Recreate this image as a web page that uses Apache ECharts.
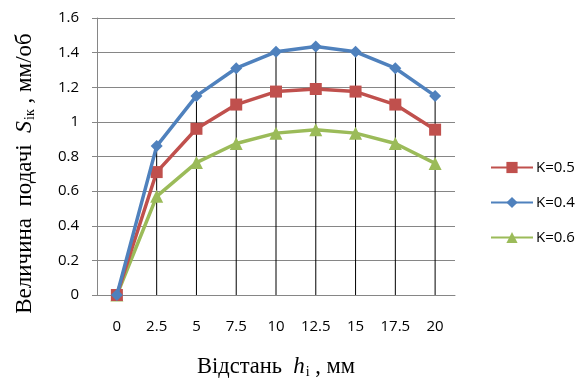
<!DOCTYPE html>
<html><head><meta charset="utf-8">
<script src="https://cdn.jsdelivr.net/npm/echarts@6/dist/echarts.min.js"></script>
<style>html,body{margin:0;padding:0;background:#fff}#c{width:585px;height:380px}</style>
</head><body><div id="c"></div>
<script>
var categories = ['0','2.5','5','7.5','10','12.5','15','17.5','20'];
var k05 = [0, 0.71, 0.96, 1.10, 1.175, 1.19, 1.175, 1.10, 0.955];
var k04 = [0, 0.86, 1.15, 1.31, 1.405, 1.435, 1.405, 1.31, 1.15];
var k06 = [0, 0.57, 0.765, 0.875, 0.935, 0.955, 0.935, 0.875, 0.76];
var yTicks = [0, 0.2, 0.4, 0.6, 0.8, 1, 1.2, 1.4, 1.6];

var chart = echarts.init(document.getElementById('c'), null, {renderer:'canvas'});
var serif = '"Liberation Serif", "DejaVu Serif", serif';
var sans = '"Open Sans", "Liberation Sans", sans-serif';
chart.setOption({
  animation: false,
  backgroundColor: '#fff',
  grid: {left: 97, right: 130, top: 18, bottom: 85, containLabel: false, outerBoundsMode: 'none'},
  legend: {
    orient: 'vertical', left: 485, top: 155, itemGap: 20,
    itemWidth: 42, itemHeight: 14,
    textStyle: {fontFamily: sans, fontSize: 15, color: '#000', padding: [0, 0, 0, -2]},
    data: ['K=0.5', 'K=0.4', 'K=0.6']
  },
  xAxis: {
    type: 'category', data: categories, boundaryGap: true,
    axisLine: {lineStyle: {color: '#868686', width: 1}},
    axisTick: {show: false},
    axisLabel: {fontFamily: sans, fontSize: 15, color: '#000', margin: 24},
    name: '{n|Відстань  }{i|h}{s|i}{n| , мм}',
    nameLocation: 'middle', nameGap: 60,
    nameTextStyle: {
      rich: {
        n: {fontFamily: serif, fontSize: 22.5, color: '#000'},
        i: {fontFamily: serif, fontSize: 23, fontStyle: 'italic', color: '#000'},
        s: {fontFamily: serif, fontSize: 14, color: '#000', padding: [10, 0, 0, 1]}
      }
    }
  },
  yAxis: {
    type: 'value', min: 0, max: 1.6, interval: 0.2,
    axisLine: {show: true, lineStyle: {color: '#868686', width: 1}},
    axisTick: {show: true, inside: false, length: 5, lineStyle: {color: '#868686'}},
    splitLine: {lineStyle: {color: '#868686', width: 1}},
    axisLabel: {fontFamily: sans, fontSize: 15, color: '#000', margin: 18,
      formatter: function (v) { return String(Math.round(v * 10) / 10); }},
    name: '{n|Величина  подачі  }{i|S}{s|ік}{n| , мм/об}',
    nameLocation: 'middle', nameRotate: 90, nameGap: 60,
    nameTextStyle: {
      padding: [0, 34, 0, 0],
      rich: {
        n: {fontFamily: serif, fontSize: 23, color: '#000'},
        i: {fontFamily: serif, fontSize: 24, fontStyle: 'italic', color: '#000'},
        s: {fontFamily: serif, fontSize: 14, color: '#000', padding: [10, 0, 0, 1]}
      }
    }
  },
  series: [
    {name: 'drop', type: 'bar', data: k04, barWidth: 1, z: 1,
     itemStyle: {color: '#000'}, silent: true, legendHoverLink: false},
    {name: 'K=0.5', type: 'line', data: k05, z: 3,
     symbol: 'rect', symbolSize: 12,
     lineStyle: {color: '#C0504D', width: 3.5}, itemStyle: {color: '#C0504D'}},
    {name: 'K=0.4', type: 'line', data: k04, z: 4,
     symbol: 'diamond', symbolSize: 12,
     lineStyle: {color: '#4F81BD', width: 3.5}, itemStyle: {color: '#4F81BD'}},
    {name: 'K=0.6', type: 'line', data: k06, z: 2,
     symbol: 'triangle', symbolSize: 13,
     lineStyle: {color: '#9BBB59', width: 3.5}, itemStyle: {color: '#9BBB59'}}
  ]
});
</script></body></html>
